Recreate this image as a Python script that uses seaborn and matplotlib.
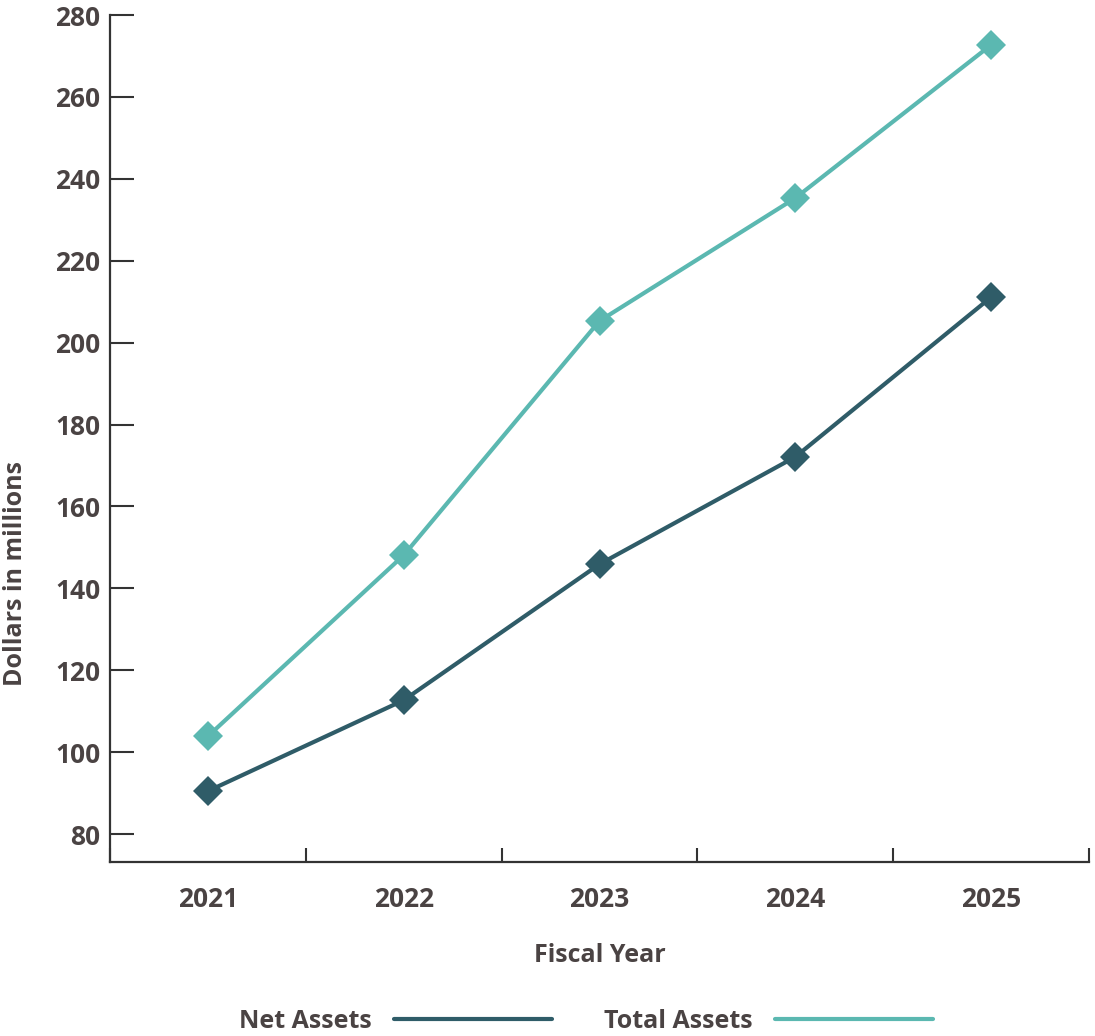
import pandas as pd
import matplotlib.pyplot as plt
import seaborn as sns

# data (dollars in millions)
years = ["2021", "2022", "2023", "2024", "2025"]
net_assets = [90.5, 112.7, 145.9, 172.1, 211.1]
total_assets = [103.9, 148.1, 205.3, 235.3, 272.7]
y_ticks = [80, 100, 120, 140, 160, 180, 200, 220, 240, 260, 280]

df = pd.DataFrame({
    "Year": years * 2,
    "Value": net_assets + total_assets,
    "Series": ["Net Assets"] * 5 + ["Total Assets"] * 5,
})

sns.set_style("white")
plt.rcParams["font.family"] = ["Open Sans", "DejaVu Sans"]
text_col = "#4a4343"
palette = {"Net Assets": "#2f5c68", "Total Assets": "#5bb8b1"}

fig = plt.figure(figsize=(10.95, 10.36), dpi=100)
ax = fig.add_axes([0.1005, 0.168, 0.894, 0.8175])

sns.lineplot(data=df, x="Year", y="Value", hue="Series", palette=palette,
             marker="D", markersize=15, markeredgewidth=0, linewidth=3,
             sort=False, legend=False, ax=ax)

ax.set_xlim(-0.5, 4.5)
ax.set_ylim(73.2, 280)
ax.set_yticks(y_ticks)

# x ticks: labels centred, tick marks at category boundaries
ax.set_xticks(range(len(years)))
ax.set_xticklabels(years)
ax.set_xticks([i - 0.5 for i in range(len(years) + 1)], minor=True)
ax.tick_params(axis="x", which="major", bottom=True, length=0, pad=17,
               labelsize=19, labelcolor=text_col)
ax.tick_params(axis="x", which="minor", bottom=True, direction="in",
               length=10, width=1.5, color="#333333")
ax.tick_params(axis="y", left=True, direction="in", length=17, width=1.5,
               color="#333333", pad=7, labelsize=19, labelcolor=text_col)
for lab in ax.get_xticklabels() + ax.get_yticklabels():
    lab.set_fontweight("bold")

for s in ["top", "right"]:
    ax.spines[s].set_visible(False)
for s in ["left", "bottom"]:
    ax.spines[s].set_color("#333333")
    ax.spines[s].set_linewidth(1.6)

ax.set_xlabel("Fiscal Year", fontsize=18, fontweight="bold",
              color=text_col, labelpad=22)
ax.set_ylabel("Dollars in millions", fontsize=18, fontweight="bold",
              color=text_col)
ax.yaxis.set_label_coords(-0.084, 0.34)

# legend below, label before the line
handles = [plt.Line2D([], [], color=palette[k], linewidth=3,
                      solid_capstyle="round") for k in palette]
leg = fig.legend(handles, list(palette.keys()), loc="lower center",
                 bbox_to_anchor=(0.535, -0.02), ncol=2, frameon=False,
                 markerfirst=False, handlelength=6.3, handletextpad=0.9,
                 columnspacing=2.1, fontsize=18)
for t in leg.get_texts():
    t.set_fontweight("bold")
    t.set_color(text_col)

fig.savefig("out.png", dpi=100)
